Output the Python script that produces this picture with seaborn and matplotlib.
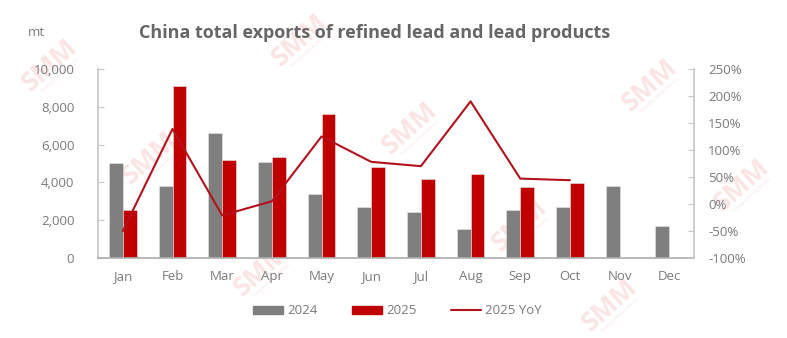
import numpy as np
import pandas as pd
import matplotlib
matplotlib.use("Agg")
import matplotlib.pyplot as plt
import seaborn as sns
from matplotlib.lines import Line2D
from matplotlib.patches import Patch

months = ["Jan", "Feb", "Mar", "Apr", "May", "Jun", "Jul", "Aug", "Sep", "Oct", "Nov", "Dec"]
exports_2024 = [5050, 3810, 6610, 5080, 3390, 2700, 2450, 1530, 2540, 2720, 3830, 1710]
exports_2025 = [2550, 9100, 5185, 5340, 7620, 4815, 4180, 4430, 3740, 3950, np.nan, np.nan]
yoy_2025 = [-50, 139, -21, 5, 125, 78, 70, 190, 47, 44]

left_ticks = [0, 2000, 4000, 6000, 8000, 10000]
right_ticks = [-100, -50, 0, 50, 100, 150, 200, 250]

GREY = "#7f7f7f"
RED = "#c00000"
LINE_RED = "#b3121c"
TEXT = "#7a7a7a"
SPINE = "#c8c8c8"
WATER = "#fbe4e4"

sns.set_theme(style="white")
plt.rcParams["font.family"] = ["Open Sans", "DejaVu Sans"]

df = pd.DataFrame({
    "month": months * 2,
    "year": ["2024"] * 12 + ["2025"] * 12,
    "value": exports_2024 + exports_2025,
})

fig = plt.figure(figsize=(7.87, 3.38), dpi=100)

# faint SMM watermarks behind everything
marks = [(50, 65), (300, 40), (150, 158), (410, 128), (650, 85), (262, 270),
         (520, 225), (610, 305), (742, 185)]
for px, py in marks:
    fig.text(px / 787, 1 - py / 338, "SMM", rotation=42, ha="center", va="center",
             fontsize=19, fontweight="bold", color=WATER, zorder=-5)
    fig.text(px / 787 + 0.012, 1 - py / 338 - 0.03, "Shanghai Metals Market", rotation=42,
             ha="center", va="center", fontsize=3.2, color=WATER, zorder=-5)

ax = fig.add_axes([0.1245, 0.2367, 0.7575, 0.5593])
ax.set_facecolor("none")

sns.barplot(data=df, x="month", y="value", hue="year", order=months,
            hue_order=["2024", "2025"], palette=[GREY, RED], width=0.56, gap=0,
            dodge=True, ax=ax, legend=False, saturation=1, edgecolor="#e6e6e6",
            linewidth=0.4)

ax.set_xlim(-0.5, 11.5)
ax.set_ylim(0, 10000)
ax.set_yticks(left_ticks)
ax.set_yticklabels([f"{v:,}" for v in left_ticks])
ax.set_xlabel("")
ax.set_ylabel("")

ax2 = ax.twinx()
ax2.set_facecolor("none")
sns.lineplot(x=np.arange(len(yoy_2025)), y=yoy_2025, color=LINE_RED, lw=1.5, ax=ax2)
ax2.set_ylim(-100, 250)
ax2.set_yticks(right_ticks)
ax2.set_yticklabels([f"{v}%" for v in right_ticks])
ax.set_xlim(-0.5, 11.5)

for a in (ax, ax2):
    for s in a.spines.values():
        s.set_visible(False)
    a.tick_params(axis="y", colors=TEXT, labelsize=9.5, length=4, width=0.8,
                  direction="in", color=SPINE, pad=17)
ax.spines["left"].set_visible(True)
ax.spines["left"].set_color(SPINE)
ax.spines["bottom"].set_visible(True)
ax.spines["bottom"].set_color("#b0b0b0")
ax2.spines["right"].set_visible(True)
ax2.spines["right"].set_color(SPINE)
ax2.tick_params(axis="y", pad=10)

# category separators along the x axis
ax.set_xticks(np.arange(12))
ax.set_xticklabels(months)
ax.set_xticks(np.arange(-0.5, 12, 1), minor=True)
ax.tick_params(axis="x", which="major", length=0, colors=TEXT, labelsize=9.5, pad=9)
ax.tick_params(axis="x", which="minor", length=4, direction="in", color="#b0b0b0", width=0.8)

fig.text(375 / 787, 1 - 33 / 338, "China total exports of refined lead and lead products",
         ha="center", va="center", fontsize=13, fontweight="bold", color="#666666")
fig.text(36 / 787, 1 - 33 / 338, "mt", ha="center", va="center", fontsize=9.5, color=TEXT)

handles = [Patch(color=GREY, label="2024"), Patch(color=RED, label="2025"),
           Line2D([0], [0], color=LINE_RED, lw=1.5, label="2025 YoY")]
leg = fig.legend(handles=handles, loc="center", bbox_to_anchor=(0.505, 1 - 311 / 338),
                 ncol=3, frameon=False, fontsize=9.5, handlelength=2.3, handleheight=0.55,
                 columnspacing=2.6, handletextpad=0.3)
for t in leg.get_texts():
    t.set_color(TEXT)

fig.savefig("out.png", dpi=100)
